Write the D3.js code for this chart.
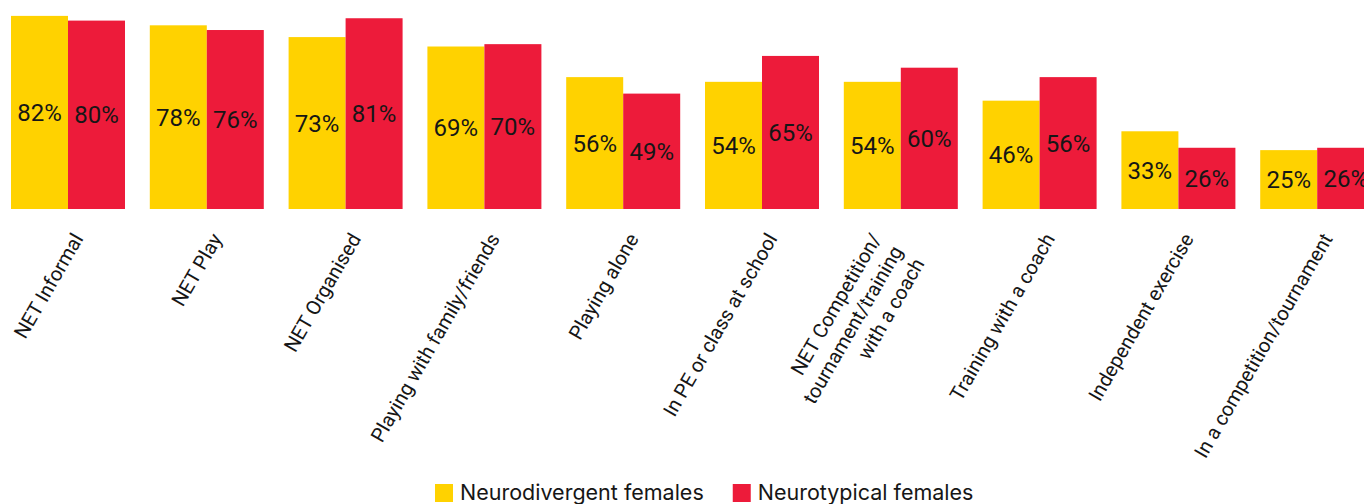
<!DOCTYPE html>
<html>
<head>
<meta charset="utf-8">
<script src="https://cdn.jsdelivr.net/npm/d3@7"></script>
<style>
  html, body { margin: 0; padding: 0; background: #fff; overflow: hidden; }
  svg { display: block; font-family: Roboto, "Noto Sans", sans-serif; }
</style>
</head>
<body>
<svg id="chart" width="1364" height="504"></svg>
<script>
const categories = [
  ["NET Informal"],
  ["NET Play"],
  ["NET Organised"],
  ["Playing with family/friends"],
  ["Playing alone"],
  ["In PE or class at school"],
  ["NET Competition/", "tournament/training", "with a coach"],
  ["Training with a coach"],
  ["Independent exercise"],
  ["In a competition/tournament"]
];
const seriesNames = ["Neurodivergent females", "Neurotypical females"];
const neurodivergent = [82, 78, 73, 69, 56, 54, 54, 46, 33, 25];
const neurotypical   = [80, 76, 81, 70, 49, 65, 60, 56, 26, 26];
const colors = ["#FFD200", "#ED1B3A"];

const svg = d3.select("#chart");
const keys = categories.map(c => c.join(" "));
const seriesValues = [neurodivergent, neurotypical];

const x0 = d3.scaleBand().domain(keys).range([-1.4, 1386.6])
  .paddingInner(0.1787).paddingOuter(0.0893);
const x1 = d3.scaleBand().domain(seriesNames).range([0, x0.bandwidth()]);
const y = d3.scaleLinear().domain([0, 100]).range([209, 209 - 235.5]);

const groups = svg.append("g").selectAll("g").data(keys).join("g")
  .attr("transform", d => `translate(${x0(d)},0)`);

groups.each(function(k, i) {
  const g = d3.select(this);
  seriesNames.forEach((s, j) => {
    const v = seriesValues[j][i];
    g.append("rect")
      .attr("x", x1(s)).attr("width", x1.bandwidth())
      .attr("y", y(v)).attr("height", y(0) - y(v))
      .attr("fill", colors[j]);
    g.append("text")
      .attr("x", x1(s) + x1.bandwidth() / 2)
      .attr("y", (y(v) + y(0)) / 2 + 8.5)
      .attr("text-anchor", "middle")
      .attr("font-size", 24)
      .attr("fill", "#161616")
      .text(v + "%");
  });
});

// category labels
const labels = svg.append("g");
categories.forEach((lines, i) => {
  const cx = x0(keys[i]) + x0.bandwidth() / 2;
  const multi = lines.length > 1;
  const ax = multi ? cx - 32 : cx + 3;
  const ay = 231;
  const t = labels.append("text")
    .attr("transform", `translate(${ax},${ay}) rotate(-60)`)
    .attr("text-anchor", "end")
    .attr("font-size", 20)
    .attr("fill", "#161616");
  lines.forEach((ln, li) => {
    t.append("tspan").attr("x", 0).attr("dy", li === 0 ? "0.75em" : "1.25em").text(ln);
  });
});

// legend
const legend = svg.append("g");
let lx = 435;
seriesNames.forEach((s, j) => {
  legend.append("rect").attr("x", lx).attr("y", 484).attr("width", 18).attr("height", 18).attr("fill", colors[j]);
  const txt = legend.append("text").attr("x", lx + 25).attr("y", 500)
    .attr("font-family", "Inter, Roboto, sans-serif")
    .attr("font-size", 21.5).attr("fill", "#161616").text(s);
  const w = txt.node().getComputedTextLength();
  lx = lx + 25 + w + 29;
});
</script>
</body>
</html>
